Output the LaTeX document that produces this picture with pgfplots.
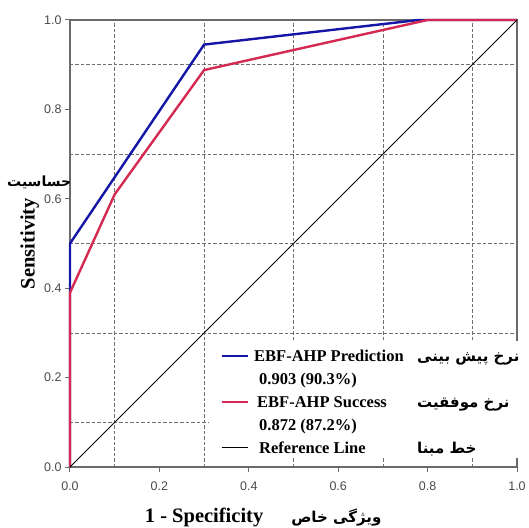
\documentclass[border=0pt]{standalone}
\usepackage{fontspec}
\setmainfont{Liberation Serif}
\setsansfont{Liberation Sans}
\newfontfamily\fa[Script=Arabic]{DejaVu Sans}
\TeXXeTstate=1
\usepackage{pgfplots}
\pgfplotsset{compat=1.18}
\usetikzlibrary{calc}
\definecolor{predblue}{HTML}{1616A6}
\definecolor{succred}{HTML}{D42A52}
\definecolor{axgray}{HTML}{6A6A6A}
\definecolor{tickgray}{HTML}{4A4A4A}
\definecolor{gridgray}{HTML}{707070}
\newcommand{\fatext}[1]{{\fa\bfseries\fontsize{15bp}{18bp}\selectfont\beginR #1\endR}}
\begin{document}
\begin{tikzpicture}
\begin{axis}[name=ax,
  scale only axis, width=447bp, height=447bp,
  xmin=0, xmax=1, ymin=0, ymax=1,
  clip=false,
  xtick={0,0.2,0.4,0.6,0.8,1.0},
  ytick={0,0.2,0.4,0.6,0.8,1.0},
  xticklabels={0.0,0.2,0.4,0.6,0.8,1.0},
  yticklabels={0.0,0.2,0.4,0.6,0.8,1.0},
  minor xtick={0.1,0.3,0.5,0.7,0.9},
  minor ytick={0.1,0.3,0.5,0.7,0.9},
  xminorgrids, yminorgrids,
  minor grid style={gridgray, line width=0.7bp, dash pattern=on 3.5bp off 2bp},
  minor tick length=0pt,
  major tick length=5bp,
  tick align=outside,
  xtick pos=left, ytick pos=left,
  axis line style={axgray, line width=1.4bp},
  major tick style={axgray, line width=1bp},
  tick label style={font=\sffamily\fontsize{12.5bp}{14bp}\selectfont, text=tickgray},
  xticklabel style={yshift=-6bp},
  legend style={at={(axis cs:0.31,0.02)}, anchor=south west, draw=none, fill=white,
    font=\bfseries\fontsize{16.5bp}{20bp}\selectfont, inner xsep=12bp, inner ysep=1bp,
    row sep=0pt, cells={anchor=base west},
    nodes={inner ysep=0pt, inner xsep=0pt, text height=20bp, text depth=3bp},
    /tikz/every odd column/.append style={column sep=5bp}},
  legend image code/.code={\draw[#1] (0bp,6bp) -- (26bp,6bp);},
]
\addplot[predblue, line width=2.4bp] coordinates {(0,0) (0,0.5) (0.3,0.945) (0.78,1) (1,1)};
\addlegendentry{\makebox[163bp][l]{EBF-AHP Prediction}\fatext{نرخ پیش بینی}}
\addlegendimage{empty legend}
\addlegendentry{\hspace{5bp}0.903 (90.3\%)}
\addplot[succred, line width=2.4bp] coordinates {(0,0) (0,0.39) (0.1,0.61) (0.3,0.888) (0.8,1) (1,1)};
\addlegendentry{\makebox[163bp][l]{\hspace{3bp}EBF-AHP Success}\fatext{نرخ موفقیت}}
\addlegendimage{empty legend}
\addlegendentry{\hspace{5bp}0.872 (87.2\%)}
\addplot[black, line width=0.8bp] coordinates {(0,0) (1,1)};
\addlegendentry{\makebox[163bp][l]{\hspace{5bp}Reference Line}\fatext{خط مبنا}}
\node[rotate=90, font=\bfseries\fontsize{20.5bp}{24bp}\selectfont] at (axis description cs:-0.09,0.5) {Sensitivity};
\node[font=\bfseries\fontsize{14bp}{16bp}\selectfont\fa] at (axis description cs:-0.069,0.636) {\beginR حساسیت\endR};
\node[font=\bfseries\fontsize{20.5bp}{24bp}\selectfont] at (axis description cs:0.432,-0.112) {1 - Specificity\hspace{28bp}{\fa\fontsize{15bp}{18bp}\selectfont\beginR ویژگی خاص\endR}};
\end{axis}
\pgfresetboundingbox
\path[use as bounding box] ($(ax.south west)+(-70bp,-61bp)$) rectangle ($(ax.north east)+(12bp,20bp)$);
\end{tikzpicture}
\end{document}
